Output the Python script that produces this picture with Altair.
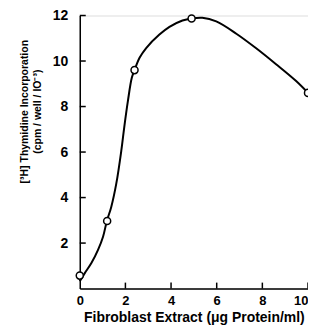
import altair as alt
import pandas as pd

# measured points (open circles)
pt_x = [0, 1.2, 2.4, 4.9, 10]
pt_y = [0.57, 2.97, 9.6, 11.87, 8.6]

# hand-drawn smooth curve
cv_x = [0, 0.22, 0.51, 0.8, 1.02, 1.19, 1.38, 1.6, 1.82, 1.95, 2.11, 2.28, 2.4, 2.62, 2.91, 3.49, 3.93, 4.5, 4.9, 5.37, 5.98, 6.86, 7.73, 8.6, 9.48, 10]
cv_y = [0.32, 0.68, 1.12, 1.70, 2.28, 2.98, 3.59, 4.61, 6.06, 7.1, 8.25, 9.26, 9.6, 10.14, 10.57, 11.16, 11.5, 11.78, 11.87, 11.9, 11.74, 11.2, 10.56, 9.86, 9.12, 8.6]

x_ticks = [2, 4, 6, 8, 10]
y_ticks = [2, 4, 6, 8, 10, 12]

pts = pd.DataFrame({"x": pt_x, "y": pt_y})
curve = pd.DataFrame({"x": cv_x, "y": cv_y})
xt = pd.DataFrame({"v": x_ticks})
yt = pd.DataFrame({"v": y_ticks})

FONT = "Liberation Sans"
xs = alt.Scale(domain=[0, 10], nice=False, zero=False)
ys = alt.Scale(domain=[0, 12], nice=False, zero=False)

line = alt.Chart(curve).mark_line(color="black", strokeWidth=2, interpolate="catmull-rom").encode(
    x=alt.X("x:Q", scale=xs, axis=alt.Axis(
        values=[0, 2, 4, 6, 8, 10], ticks=False, grid=False, domainColor="black",
        domainWidth=1.5, labelFont=FONT, labelFontSize=13, labelFontWeight="bold",
        labelColor="black", labelPadding=6, labelFlush=False,
        labelAlign={"condition": {"test": "datum.value == 10", "value": "right"}, "value": "center"},
        title="Fibroblast Extract (\u03bcg Protein/ml)", titleFont=FONT,
        titleFontSize=14, titleFontWeight="bold", titleColor="black", titlePadding=3)),
    y=alt.Y("y:Q", scale=ys, axis=alt.Axis(
        values=y_ticks, ticks=False, grid=False, domainColor="black",
        domainWidth=1.5, labelFont=FONT, labelFontSize=14, labelFontWeight="bold",
        labelColor="black", labelPadding=12,
        title=["[\u00b3H] Thymidine Incorporation", "(cpm / well / IO\u207b\u00b3)"],
        titleFont=FONT, titleFontSize=10.5, titleFontWeight="bold", titleColor="black",
        titleAngle=-90, titleAlign="center", titleBaseline="top",
        titleX=-60, titleY=96, titleLineHeight=13)),
)

xtick = alt.Chart(xt).mark_rule(color="black", strokeWidth=1.5).encode(
    x=alt.X("v:Q", scale=xs), y=alt.value(274), y2=alt.value(268))

ytick = alt.Chart(yt).mark_rule(color="black", strokeWidth=1.5).encode(
    y=alt.Y("v:Q", scale=ys), x=alt.value(0), x2=alt.value(6))

points = alt.Chart(pts).mark_point(shape="circle", filled=True, fill="white", stroke="black",
                                   strokeWidth=1.5, size=50, opacity=1).encode(
    x=alt.X("x:Q", scale=xs), y=alt.Y("y:Q", scale=ys))

chart = alt.layer(line, xtick, ytick, points).properties(
    width=229, height=274,
    autosize=alt.AutoSizeParams(type="none"),
    padding={"left": 72, "top": 7, "right": 0, "bottom": 37},
).configure_view(stroke=None).configure(background="white")

chart.save("out.html", embed_options={"renderer": "svg", "actions": False})
